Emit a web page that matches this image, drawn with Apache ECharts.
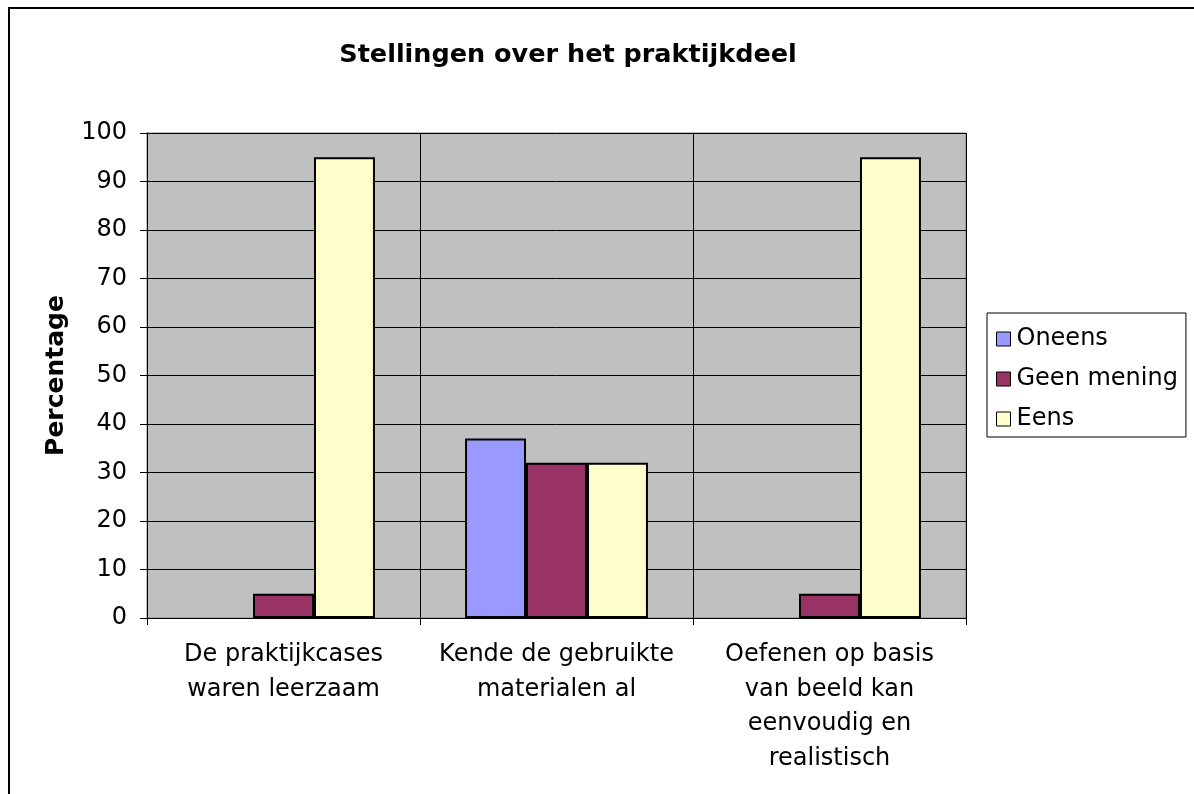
<!DOCTYPE html>
<html>
<head>
<meta charset="utf-8">
<script src="https://cdn.jsdelivr.net/npm/echarts@6/dist/echarts.min.js"></script>
<style>
html,body{margin:0;padding:0;background:#fff;}
#chart{width:1194px;height:794px;}
</style>
</head>
<body>
<div id="chart"></div>
<script>
const categories = [
  "De praktijkcases\nwaren leerzaam",
  "Kende de gebruikte\nmaterialen al",
  "Oefenen op basis\nvan beeld kan\neenvoudig en\nrealistisch"
];
const seriesNames = ["Oneens", "Geen mening", "Eens"];
const oneens = [0, 37, 0];
const geenMening = [5, 32, 5];
const eens = [95, 32, 95];
const yTicks = [0, 10, 20, 30, 40, 50, 60, 70, 80, 90, 100];
const colors = ["#9999FF", "#993366", "#FFFFCC"];

const FONT = "DejaVu Sans, Verdana, sans-serif";
const chart = echarts.init(document.getElementById('chart'), null, {renderer: 'canvas'});
const values = [oneens, geenMening, eens];

const option = {
  backgroundColor: '#ffffff',
  animation: false,
  title: {
    text: 'Stellingen over het praktijkdeel',
    left: 563,
    top: 37,
    textAlign: 'center',
    textStyle: {fontFamily: FONT, fontWeight: 'bold', fontSize: 25.5, color: '#000'}
  },
  graphic: [{
    type: 'rect',
    shape: {x: 9, y: 8, width: 1300, height: 900},
    style: {fill: 'none', stroke: '#000', lineWidth: 2},
    silent: true,
    z: 100
  }],
  legend: {
    orient: 'vertical',
    left: 987,
    top: 313,
    padding: [14, 8, 6, 9],
    itemGap: 16,
    itemWidth: 14,
    itemHeight: 14,
    borderColor: '#000',
    borderWidth: 1,
    icon: 'rect',
    itemStyle: {borderColor: '#000', borderWidth: 1},
    textStyle: {fontFamily: FONT, fontSize: 24, color: '#000', padding: [0, 0, 0, 1]},
    data: seriesNames
  },
  grid: {
    left: 147, right: 228, top: 133, bottom: 176,
    show: true,
    backgroundColor: '#C0C0C0',
    borderColor: '#808080',
    borderWidth: 1
  },
  xAxis: {
    type: 'category',
    data: categories,
    axisLine: {show: true, lineStyle: {color: '#000', width: 1}},
    axisTick: {show: true, length: 7, alignWithLabel: false, lineStyle: {color: '#000'}},
    splitLine: {show: true, lineStyle: {color: '#000', width: 1}},
    axisLabel: {
      interval: 0, margin: 20, fontFamily: FONT, fontSize: 24, color: '#000', lineHeight: 34.5
    }
  },
  yAxis: {
    type: 'value',
    min: yTicks[0],
    max: yTicks[yTicks.length - 1],
    interval: yTicks[1] - yTicks[0],
    name: 'Percentage',
    nameLocation: 'middle',
    nameRotate: 90,
    nameGap: 78,
    nameTextStyle: {fontFamily: FONT, fontWeight: 'bold', fontSize: 25, color: '#000'},
    axisLine: {show: true, lineStyle: {color: '#000', width: 1}},
    axisTick: {show: true, length: 7, lineStyle: {color: '#000'}},
    splitLine: {show: true, lineStyle: {color: '#000', width: 1}},
    axisLabel: {margin: 20, fontFamily: FONT, fontSize: 24, color: '#000'}
  },
  series: seriesNames.map((name, i) => ({
    name: name,
    type: 'bar',
    data: values[i].map(v => v === 0 ? {value: v, itemStyle: {borderWidth: 0}} : v),
    barGap: '0%',
    barCategoryGap: '33%',
    itemStyle: {color: colors[i], borderColor: '#000', borderWidth: 2}
  }))
};
chart.setOption(option);
</script>
</body>
</html>
